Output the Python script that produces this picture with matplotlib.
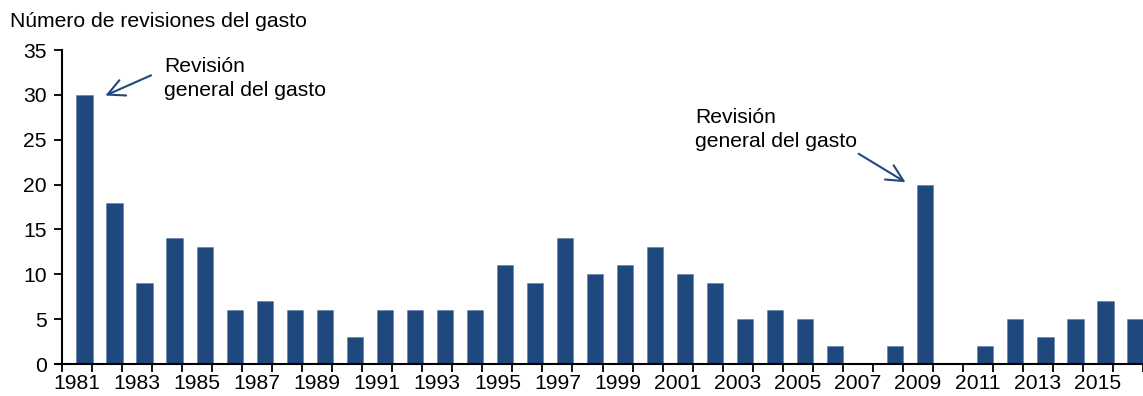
import numpy as np
import matplotlib
matplotlib.use("Agg")
import matplotlib.pyplot as plt

plt.rcParams['font.family'] = ['Liberation Sans', 'DejaVu Sans']

years = list(range(1981, 2017))
revisions = [30, 18, 9, 14, 13, 6, 7, 6, 6, 3,
             6, 6, 6, 6, 11, 9, 14, 10, 11, 13,
             10, 9, 5, 6, 5, 2, 0, 2, 20, 0,
             2, 5, 3, 5, 7, 5]
yticks = [0, 5, 10, 15, 20, 25, 30, 35]
note = "Revisión\ngeneral del gasto"

bar_color = "#1F497D"
fs = 15.2

fig = plt.figure(figsize=(11.43, 3.96), dpi=100)
ax = fig.add_axes([62 / 1143, 1 - 364 / 396, 1 - 62 / 1143, 314 / 396])

x = np.arange(len(years))
# bars sit in the right half of each category slot
ax.bar(x + 0.25, revisions, width=0.54, color=bar_color, edgecolor="#5f7fa8", linewidth=0.4)

ax.set_xlim(-0.5, len(years) - 0.5)
ax.set_ylim(0, 35)
ax.set_yticks(yticks)

# tick marks between categories, labels every other year at slot centres
ax.set_xticks(np.arange(-0.5, len(years), 1.0))
ax.set_xticklabels([])
ax.set_xticks(x[::2], minor=True)
ax.set_xticklabels([str(y) for y in years[::2]], minor=True)
ax.tick_params(axis="x", which="major", direction="out", length=6, width=1.3, colors="black")
ax.tick_params(axis="x", which="minor", length=0, labelsize=fs, pad=7)
ax.tick_params(axis="y", direction="out", length=6, width=1.3, labelsize=fs, pad=5)

for side in ["top", "right"]:
    ax.spines[side].set_visible(False)
for side in ["left", "bottom"]:
    ax.spines[side].set_linewidth(1.5)
ax.spines["bottom"].set_bounds(-0.7, len(years) - 0.5)

fig.text(10 / 1143, 1 - 12 / 396, "Número de revisiones del gasto", fontsize=fs, va="top", ha="left")

arrow = dict(arrowstyle="->", color=bar_color, lw=1.5, mutation_scale=30)
ax.annotate("", xy=(0.86, 29.8), xytext=(2.55, 32.3), arrowprops=arrow, annotation_clip=False)
ax.text(2.9, 34.2, note, fontsize=fs, va="top", ha="left", linespacing=1.3)

ax.annotate("", xy=(27.67, 20.1), xytext=(25.95, 23.6), arrowprops=arrow, annotation_clip=False)
ax.text(20.58, 28.5, note, fontsize=fs, va="top", ha="left", linespacing=1.3)

fig.savefig("out.png", dpi=100)
